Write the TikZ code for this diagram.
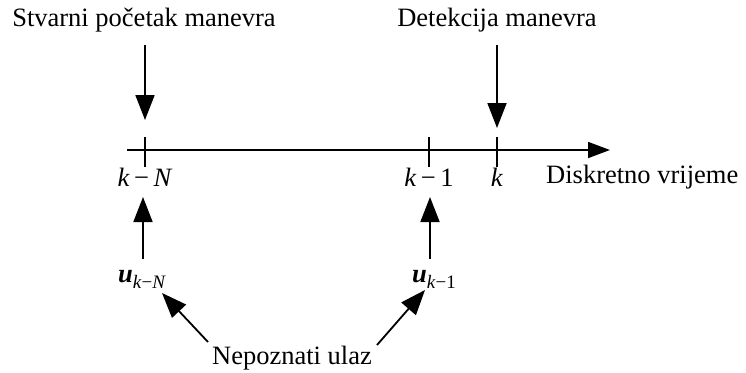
\documentclass[tikz,border=0pt]{standalone}
\usepackage{fontspec}
\setmainfont{Liberation Serif}
\usetikzlibrary{positioning,arrows.meta}

\begin{document}
\begin{tikzpicture}[x=1pt,y=-1pt,
        lbl/.style={inner sep=0pt,font=\fontsize{26.5}{30}\selectfont},
        arrow/.style={-{Triangle[length=25pt,width=19pt]},line width=1.8pt},
        axis/.style={-{Triangle[length=22pt,width=16pt]},line width=1.8pt},
        tick/.style={line width=1.8pt}]
        \useasboundingbox (0,0) rectangle (746,372);
        % time axis
        \coordinate (ax0) at (127,150);
        \coordinate (ax1) at (610,150);
        \coordinate (tN) at (145,150);
        \coordinate (t1) at (429,150);
        \coordinate (tk) at (497,150);
        \draw[axis] (ax0) -- (ax1);
        \foreach \t in {tN,t1,tk}
            \draw[tick] ([yshift=-17pt]\t) -- ([yshift=13pt]\t);
        % labels
        \node[lbl] (start) at (144,20) {Stvarni početak manevra};
        \node[lbl] (detect) at (497,20) {Detekcija manevra};
        \node[lbl] (kN) at (145,177) {\textit{k}\,−\,\textit{N}};
        \node[lbl] (k1) at (429,177) {\textit{k}\,−\,1};
        \node[lbl] (k) at (497,177) {\textit{k}};
        \node[lbl,anchor=west] (time) at (546,177) {Diskretno vrijeme};
        \node[lbl] (uN) at (142,279) {\textbf{\textit{u}}\raisebox{-6pt}{\fontsize{19}{22}\selectfont\textit{k}−\textit{N}}};
        \node[lbl] (u1) at (434,279) {\textbf{\textit{u}}\raisebox{-6pt}{\fontsize{19}{22}\selectfont\textit{k}−1}};
        \node[lbl] (input) at (292,358) {Nepoznati ulaz};
        \coordinate (sN) at (145,45);
        \coordinate (sk) at (497,45);
        \coordinate (eN) at (145,120);
        \coordinate (ek) at (497,128);
        \coordinate (pN) at (143,197);
        \coordinate (p1) at (430,197);
        \coordinate (qN) at (143,259);
        \coordinate (q1) at (430,259);
        \draw[arrow] (sN) -- (eN);
        \draw[arrow] (sk) -- (ek);
        \draw[arrow] (qN) -- (pN);
        \draw[arrow] (q1) -- (p1);
        \draw[arrow] (208,342) -- (162,293);
        \draw[arrow] (377,345) -- (425,290);
    \end{tikzpicture}
\end{document}
